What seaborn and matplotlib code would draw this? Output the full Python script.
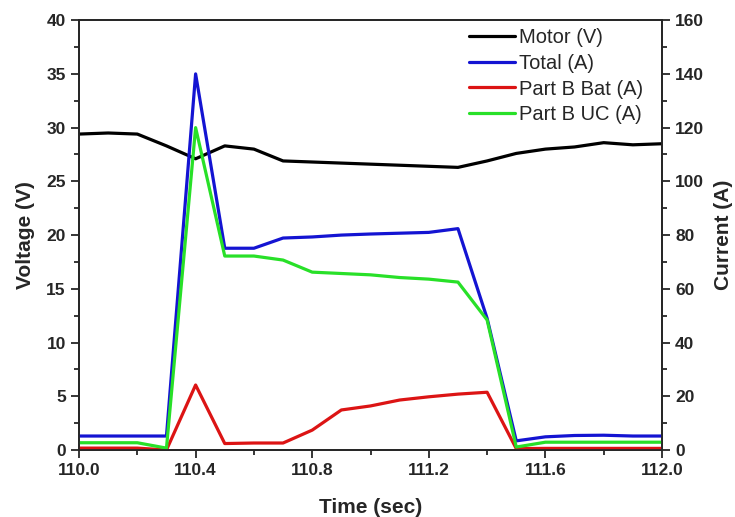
import numpy as np
import pandas as pd
import matplotlib
matplotlib.use("Agg")
import matplotlib.pyplot as plt
import seaborn as sns
from matplotlib.ticker import MultipleLocator

# -----------------------------------------------------
# DATA
# -----------------------------------------------------

time = [110.0, 110.1, 110.2, 110.3, 110.4, 110.5, 110.6, 110.7, 110.8, 110.9, 111.0,
        111.1, 111.2, 111.3, 111.4, 111.5, 111.6, 111.7, 111.8, 111.9, 112.0]

motor_v = [29.4, 29.5, 29.4, 28.3, 27.1, 28.3, 28.0, 26.9, 26.8, 26.7, 26.6,
           26.5, 26.4, 26.3, 26.9, 27.6, 28.0, 28.2, 28.6, 28.4, 28.5]

total_a = [5.2, 5.2, 5.2, 5.2, 140.0, 75.1, 75.1, 78.9, 79.3, 80.0, 80.4,
           80.7, 81.0, 82.4, 49.0, 3.4, 4.9, 5.4, 5.5, 5.2, 5.2]

bat_a = [0.7, 0.7, 0.7, 0.0, 24.2, 2.4, 2.6, 2.6, 7.4, 14.9, 16.4,
         18.6, 19.8, 20.8, 21.5, 0.5, 0.6, 0.6, 0.6, 0.6, 0.6]

uc_a = [2.7, 2.7, 2.7, 0.7, 120.0, 72.2, 72.2, 70.7, 66.2, 65.7, 65.2,
        64.2, 63.6, 62.5, 48.4, 1.1, 2.9, 2.9, 2.9, 2.9, 2.9]

df = pd.DataFrame({"Time": time, "Motor": motor_v, "Total": total_a,
                   "Bat": bat_a, "UC": uc_a})

# -----------------------------------------------------
# PLOT
# -----------------------------------------------------

sns.set_style("ticks")
plt.rcParams["font.family"] = ["Liberation Sans", "DejaVu Sans"]

fig, ax = plt.subplots(figsize=(7.35, 5.17), dpi=100)
fig.subplots_adjust(left=0.1075, right=0.9007, bottom=0.1296, top=0.961)
ax2 = ax.twinx()

lw = 2.3
sns.lineplot(data=df, x="Time", y="Motor", ax=ax, color="black", lw=lw,
             label="Motor (V)", legend=False)
sns.lineplot(data=df, x="Time", y="Total", ax=ax2, color="#1414d2", lw=lw,
             label="Total (A)", legend=False)
sns.lineplot(data=df, x="Time", y="Bat", ax=ax2, color="#dc1414", lw=lw,
             label="Part B Bat (A)", legend=False)
sns.lineplot(data=df, x="Time", y="UC", ax=ax2, color="#28e028", lw=lw,
             label="Part B UC (A)", legend=False)

ax.set_xlim(110.0, 112.0)
ax.set_ylim(0, 40)
ax2.set_ylim(0, 160)

ax.xaxis.set_major_locator(MultipleLocator(0.4))
ax.xaxis.set_minor_locator(MultipleLocator(0.2))
ax.yaxis.set_major_locator(MultipleLocator(5))
ax.yaxis.set_minor_locator(MultipleLocator(2.5))
ax2.yaxis.set_major_locator(MultipleLocator(20))
ax2.yaxis.set_minor_locator(MultipleLocator(10))
ax.xaxis.set_major_formatter(matplotlib.ticker.FormatStrFormatter("%.1f"))

for a in (ax, ax2):
    for s in a.spines.values():
        s.set_linewidth(1.3)
        s.set_visible(True)
    a.tick_params(which="major", length=6, width=1.3, labelsize=12.5, direction="out")
    a.tick_params(which="minor", length=3.5, width=1.3, direction="out")
    for lab in a.get_xticklabels() + a.get_yticklabels():
        lab.set_fontweight("bold")

ax.set_xlabel("Time (sec)", fontsize=15, fontweight="bold", labelpad=14)
ax.set_ylabel("Voltage (V)", fontsize=15, fontweight="bold", labelpad=8)
ax2.set_ylabel("Current (A)", fontsize=15, fontweight="bold", labelpad=7)

h1, l1 = ax.get_legend_handles_labels()
h2, l2 = ax2.get_legend_handles_labels()
leg = ax2.legend(h1 + h2, l1 + l2, loc="upper right", frameon=False,
                 fontsize=14.5, handlelength=2.3, handletextpad=0.2,
                 labelspacing=0.33, borderaxespad=0.0,
                 bbox_to_anchor=(0.982, 1.0))

fig.savefig("out.png", dpi=100)
